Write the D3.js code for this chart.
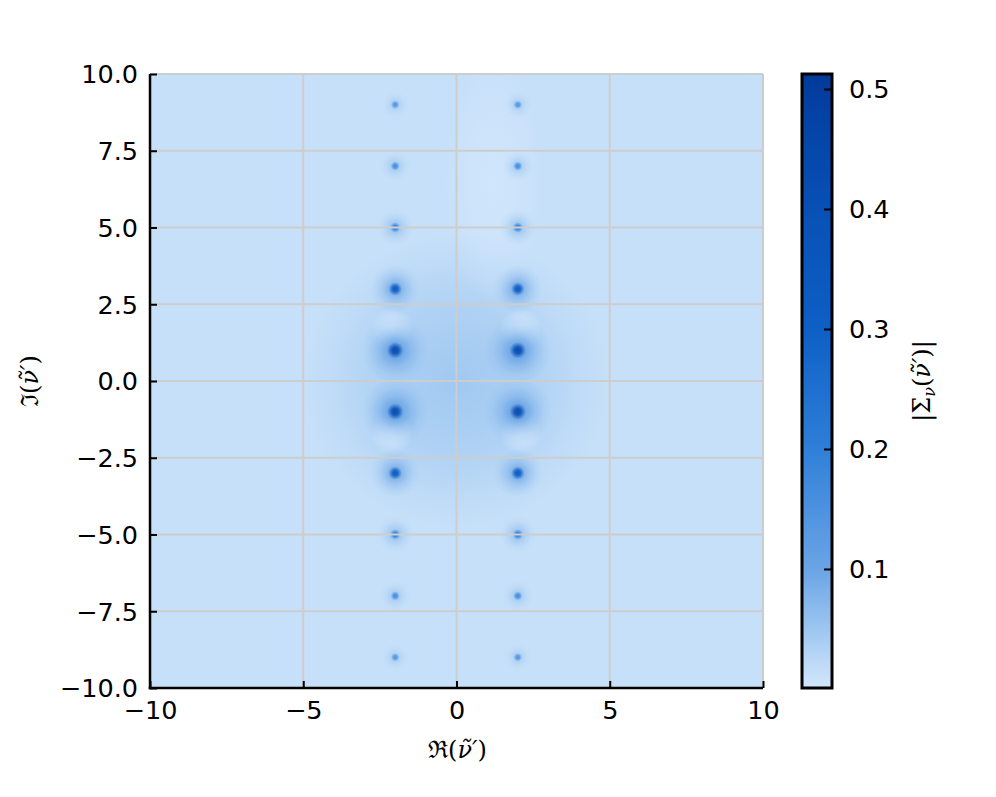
<!DOCTYPE html>
<html>
<head>
<meta charset="utf-8">
<script src="https://cdn.jsdelivr.net/npm/d3@7"></script>
<style>
  body { margin: 0; background: #fff; }
  svg { display: block; }
  .tick text { font-family: "DejaVu Sans", sans-serif; }
</style>
</head>
<body>
<svg id="chart" width="996" height="797"></svg>
<script>
// ---------------- data ----------------
const xTicks = [-10, -5, 0, 5, 10];
const yTicks = [-10, -7.5, -5, -2.5, 0, 2.5, 5, 7.5, 10];
const cbTicks = [0.1, 0.2, 0.3, 0.4, 0.5];
const cbDomain = [0.0008, 0.5125];

// pole locations (real parts / imaginary parts) and strengths
const poleRe = [-2, 2];
const poleIm = [9, 7, 5, 3, 1, -1, -3, -5, -7, -9];
const polePeak = { 9: 0.14, 7: 0.16, 5: 0.2, 3: 0.32, 1: 0.42 };    // |Σ| at pole core
const poleHalo = { 9: 0.45, 7: 0.5, 5: 0.6, 3: 0.8, 1: 1.1 };       // halo radius (units)
const poleCore = { 9: 0.14, 7: 0.15, 5: 0.17, 3: 0.22, 1: 0.27 };   // core radius (units)
const backgroundValue = 0.012;
const centerValue = 0.05;
// near-zero (light) spots of |Σ|
const zeroRe = [-2.1, 2.1, -2.1, 2.1];
const zeroIm = [1.7, 1.7, -1.7, -1.7];

// colormap stops (value -> colour)
const cmapValues = [0.0, 0.02, 0.05, 0.1, 0.15, 0.2, 0.3, 0.4, 0.5, 0.5125];
const cmapColors = ["#d2e7fc", "#c0dbf7", "#9cc6f0", "#6aa4e5", "#4d92e0", "#2f7fd8", "#0d5fc6", "#0850b6", "#033e9f", "#003a98"];

// ---------------- layout ----------------
const svg = d3.select("#chart");
const L = 150, R = 763, T = 74, B = 688;
const x = d3.scaleLinear().domain([-10, 10]).range([L, R]);
const y = d3.scaleLinear().domain([-10, 10]).range([B, T]);
const color = d3.scaleLinear().domain(cmapValues).range(cmapColors).interpolate(d3.interpolateRgb);
const defs = svg.append("defs");

defs.append("clipPath").attr("id", "plotclip")
  .append("rect").attr("x", L).attr("y", T).attr("width", R - L).attr("height", B - T);

const heat = svg.append("g").attr("clip-path", "url(#plotclip)");
heat.append("rect").attr("x", L).attr("y", T).attr("width", R - L).attr("height", B - T)
  .attr("fill", color(backgroundValue));

function radial(id, col, stops) {
  const g = defs.append("radialGradient").attr("id", id);
  stops.forEach(s => g.append("stop").attr("offset", s[0]).attr("stop-color", col).attr("stop-opacity", s[1]));
}

// broad central glow
radial("centerGlow", color(centerValue), [[0, 0.9], [0.5, 0.55], [0.8, 0.2], [1, 0]]);
heat.append("ellipse")
  .attr("cx", x(0)).attr("cy", y(0))
  .attr("rx", x(5) - x(0)).attr("ry", y(0) - y(4.8))
  .attr("fill", "url(#centerGlow)");

// slight lightening along upper-right column area
radial("lightBand", color(0), [[0, 0.8], [0.6, 0.4], [1, 0]]);
heat.append("ellipse")
  .attr("cx", x(1.2)).attr("cy", y(6.5))
  .attr("rx", x(1.6) - x(0)).attr("ry", y(0) - y(4))
  .attr("fill", "url(#lightBand)");

// zero spots
radial("zeroSpot", color(0), [[0, 1], [0.5, 0.6], [1, 0]]);
heat.selectAll("circle.zero").data(d3.range(zeroRe.length)).join("circle")
  .attr("class", "zero")
  .attr("cx", i => x(zeroRe[i])).attr("cy", i => y(zeroIm[i]))
  .attr("r", x(0.7) - x(0))
  .attr("fill", "url(#zeroSpot)");

// pole gradients: soft halo + dark core
const levels = Object.keys(polePeak).map(Number);
levels.forEach(k => {
  const p = polePeak[k];
  radial("halo" + k, color(p * 0.3), [[0, 0.95], [0.25, 0.7], [0.5, 0.35], [0.75, 0.12], [1, 0]]);
  radial("core" + k, color(p), [[0, 1], [0.4, 0.85], [0.7, 0.4], [1, 0]]);
});
const poles = [];
poleRe.forEach(re => poleIm.forEach(im => poles.push({ re, im, k: Math.abs(im) })));
heat.selectAll("circle.halo").data(poles).join("circle")
  .attr("class", "halo")
  .attr("cx", d => x(d.re)).attr("cy", d => y(d.im))
  .attr("r", d => x(poleHalo[d.k]) - x(0))
  .attr("fill", d => `url(#halo${d.k})`);
heat.selectAll("circle.core").data(poles).join("circle")
  .attr("class", "core")
  .attr("cx", d => x(d.re)).attr("cy", d => y(d.im))
  .attr("r", d => x(poleCore[d.k]) - x(0))
  .attr("fill", d => `url(#core${d.k})`);

// grid
const grid = svg.append("g");
grid.selectAll("line.gx").data(xTicks).join("line")
  .attr("x1", d => x(d)).attr("x2", d => x(d)).attr("y1", T).attr("y2", B)
  .attr("stroke", "#cdcdcd").attr("stroke-width", 2);
grid.selectAll("line.gy").data(yTicks).join("line")
  .attr("y1", d => y(d)).attr("y2", d => y(d)).attr("x1", L).attr("x2", R)
  .attr("stroke", "#cdcdcd").attr("stroke-width", 2);

// axes
const fmtY = d3.format(".1f");
const minus = s => s.replace("-", "\u2212");
const xAxis = svg.append("g").attr("transform", `translate(0,${B})`)
  .call(d3.axisBottom(x).tickValues(xTicks).tickSizeInner(-7).tickSizeOuter(0).tickPadding(8)
    .tickFormat(d => minus(String(d))));
const yAxis = svg.append("g").attr("transform", `translate(${L},0)`)
  .call(d3.axisLeft(y).tickValues(yTicks).tickSizeInner(-7).tickSizeOuter(0).tickPadding(12)
    .tickFormat(d => minus(fmtY(d))));
[xAxis, yAxis].forEach(a => {
  a.select(".domain").attr("stroke", "#000").attr("stroke-width", 2.5);
  a.selectAll(".tick line").attr("stroke", "#000").attr("stroke-width", 2);
  a.selectAll(".tick text").attr("font-size", 25.5).attr("fill", "#000");
});
xAxis.selectAll(".tick text").attr("dy", "0.9em");
yAxis.selectAll(".tick text").attr("dy", "0.35em");
xAxis.select(".domain").attr("d", `M${L - 1.25},0H${R}`);
yAxis.select(".domain").attr("d", `M0,${B + 1.25}V${T}`);

// colorbar
const cbL = 802, cbR = 832;
const cy = d3.scaleLinear().domain(cbDomain).range([B, T]);
const lgC = defs.append("linearGradient").attr("id", "cbGrad")
  .attr("x1", 0).attr("y1", 1).attr("x2", 0).attr("y2", 0);
d3.range(0, 1.0001, 0.02).forEach(t => {
  const v = cbDomain[0] + t * (cbDomain[1] - cbDomain[0]);
  lgC.append("stop").attr("offset", t).attr("stop-color", color(v));
});
svg.append("rect").attr("x", cbL).attr("y", T).attr("width", cbR - cbL).attr("height", B - T)
  .attr("fill", "url(#cbGrad)").attr("stroke", "#000").attr("stroke-width", 3);
const cbAxis = svg.append("g").attr("transform", `translate(${cbR},0)`)
  .call(d3.axisRight(cy).tickValues(cbTicks).tickSizeInner(-8).tickSizeOuter(0).tickPadding(17)
    .tickFormat(d3.format(".1f")));
cbAxis.select(".domain").remove();
cbAxis.selectAll(".tick line").attr("stroke", "#000").attr("stroke-width", 2);
cbAxis.selectAll(".tick text").attr("font-size", 25.5).attr("fill", "#000").attr("dy", "0.35em");

// labels
const mathFont = "'DejaVu Serif', 'Liberation Serif', serif";
function mathLabel(g, prefix) {
  const t = g.append("text").attr("text-anchor", "middle").attr("font-family", mathFont)
    .attr("font-size", 24).attr("fill", "#000");
  t.append("tspan").text(prefix + "(");
  t.append("tspan").attr("font-style", "italic").text("\u03BD\u0303\u2032");
  t.append("tspan").text(")");
  return t;
}
mathLabel(svg.append("g").attr("transform", `translate(${(L + R) / 2 + 1},758)`), "\u211C");
mathLabel(svg.append("g").attr("transform", `translate(38,${(T + B) / 2}) rotate(-90)`), "\u2111");

const cbl = svg.append("g").attr("transform", `translate(930,${(T + B) / 2}) rotate(-90)`)
  .append("text").attr("text-anchor", "middle").attr("font-family", mathFont)
  .attr("font-size", 24).attr("fill", "#000");
cbl.append("tspan").text("|\u03A3");
cbl.append("tspan").attr("font-style", "italic").attr("font-size", 16).attr("dy", 5).text("\u03BD");
cbl.append("tspan").attr("dy", -5).text("(");
cbl.append("tspan").attr("font-style", "italic").text("\u03BD\u0303\u2032");
cbl.append("tspan").text(")|");
</script>
</body>
</html>
